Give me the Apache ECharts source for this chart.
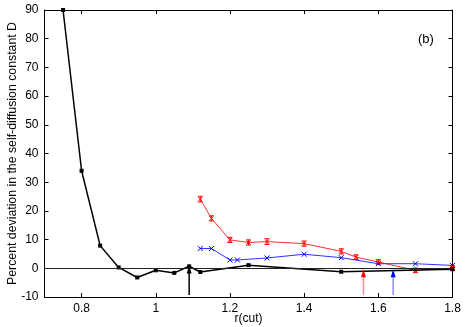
<!DOCTYPE html>
<html>
<head>
<meta charset="utf-8">
<script src="https://cdn.jsdelivr.net/npm/echarts@6/dist/echarts.min.js"></script>
<style>
  html, body { margin: 0; padding: 0; background: #fff; }
  #chart { width: 467px; height: 327px; }
</style>
</head>
<body>
<div id="chart"></div>
<script>
// tick labels
var xTicks = [0.8, 1, 1.2, 1.4, 1.6, 1.8]

// black series (squares)
var blackX = [0.75, 0.8, 0.85, 0.9, 0.95, 1.0, 1.05, 1.09, 1.12, 1.25, 1.5, 1.8]
var blackY = [90, 34, 7.9, 0.3, -3.2, -0.7, -1.6, 0.7, -1.3, 1.1, -1.2, -0.3]

// red series with error bars
var redX = [1.12, 1.15, 1.2, 1.25, 1.3, 1.4, 1.5, 1.54, 1.6, 1.7, 1.8]
var redY = [24.1, 17.4, 9.9, 9.0, 9.3, 8.6, 5.9, 3.9, 2.2, -0.7, 0.1]
var redErr = [1.0, 0.9, 0.9, 0.9, 1.0, 0.9, 0.9, 0.8, 0.8, 0.8, 0.9]

// blue series (crosses)
var blueX = [1.12, 1.15, 1.2, 1.22, 1.3, 1.4, 1.5, 1.6, 1.7, 1.8]
var blueY = [6.9, 6.9, 2.9, 2.9, 3.6, 4.9, 3.7, 1.6, 1.6, 1.0]

// arrows marking r(cut) values
var arrowX = [1.09, 1.56, 1.64]
var arrowTop = [1, -0.3, -0.3]
var arrowShaft = ['#000000', '#ff9090', '#9090ff']
var arrowHead = ['#000000', '#ff0000', '#0000ff']

var chart = echarts.init(document.getElementById('chart'))

var cross = 'path://M0,0L10,10M10,0L0,10'
var font = 'Liberation Sans, Arial, sans-serif'

function zip(xs, ys) {
  return xs.map(function (x, i) { return [x, ys[i]] })
}

var option = {
  animation: false,
  backgroundColor: '#fff',
  grid: { left: 44.5, right: 14.5, top: 10, bottom: 30, outerBoundsMode: 'none', containLabel: false },
  xAxis: [
    {
      type: 'value', min: 0.7, max: 1.8,
      name: 'r(cut)', nameLocation: 'middle', nameGap: 16, nameMoveOverlap: false,
      nameTextStyle: { color: '#000', fontSize: 12, fontFamily: font },
      axisLine: { onZero: false, lineStyle: { color: '#000', width: 1 } },
      axisTick: { inside: true, length: 4, customValues: xTicks, lineStyle: { color: '#000' } },
      axisLabel: { customValues: xTicks, color: '#000', fontSize: 12, fontFamily: font, margin: 6 },
      splitLine: { show: false }
    },
    {
      type: 'value', min: 0.7, max: 1.8, position: 'top',
      axisLine: { onZero: false, lineStyle: { color: '#000', width: 1 } },
      axisTick: { inside: true, length: 4, customValues: xTicks, lineStyle: { color: '#000' } },
      axisLabel: { show: false },
      splitLine: { show: false }
    }
  ],
  yAxis: [
    {
      type: 'value', min: -10, max: 90, interval: 10,
      name: 'Percent deviation in the self-diffusion constant D',
      nameLocation: 'middle', nameGap: 26, nameMoveOverlap: false,
      nameTextStyle: { color: '#000', fontSize: 12.3, fontFamily: font },
      axisLine: { show: true, onZero: false, lineStyle: { color: '#000', width: 1 } },
      axisTick: { show: true, inside: true, length: 4, lineStyle: { color: '#000' } },
      axisLabel: { color: '#000', fontSize: 12, fontFamily: font, margin: 6 },
      splitLine: { show: false }
    },
    {
      type: 'value', min: -10, max: 90, interval: 10, position: 'right',
      axisLine: { show: true, onZero: false, lineStyle: { color: '#000', width: 1 } },
      axisTick: { show: true, inside: true, length: 4, lineStyle: { color: '#000' } },
      axisLabel: { show: false },
      splitLine: { show: false }
    }
  ],
  graphic: [
    {
      type: 'text', left: 418, top: 33,
      style: { text: '(b)', fill: '#000', font: '13px ' + font }
    }
  ],
  series: [
    {
      // zero reference line
      type: 'line',
      data: [],
      markLine: {
        silent: true,
        animation: false,
        symbol: 'none',
        label: { show: false },
        lineStyle: { color: '#222', width: 1, type: 'solid' },
        data: [[{ coord: [0.7, 0] }, { coord: [1.8, 0] }]]
      }
    },
    {
      // arrows
      type: 'custom',
      data: arrowX.map(function (x, i) { return [x, arrowTop[i], i] }),
      renderItem: function (params, api) {
        var i = api.value(2)
        var tip = api.coord([api.value(0), api.value(1)])
        var base = api.coord([api.value(0), -10])
        var hl = 8, hw = 2.5
        return {
          type: 'group',
          children: [
            {
              type: 'line',
              shape: { x1: base[0], y1: base[1] - 2, x2: tip[0], y2: tip[1] + hl - 1 },
              style: { stroke: arrowShaft[i], lineWidth: 1.5 }
            },
            {
              type: 'polygon',
              shape: { points: [[tip[0], tip[1]], [tip[0] - hw, tip[1] + hl], [tip[0] + hw, tip[1] + hl]] },
              style: { fill: arrowHead[i] }
            }
          ]
        }
      },
      z: 5
    },
    {
      type: 'line',
      data: zip(redX, redY),
      symbol: cross,
      symbolSize: 4,
      lineStyle: { color: '#ff3030', width: 1 },
      itemStyle: { color: 'none', borderColor: '#ff0000', borderWidth: 1 },
      z: 3
    },
    {
      type: 'custom',
      data: redX.map(function (x, i) { return [x, redY[i] - redErr[i], redY[i] + redErr[i]] }),
      renderItem: function (params, api) {
        var lo = api.coord([api.value(0), api.value(1)])
        var hi = api.coord([api.value(0), api.value(2)])
        var w = 2.5
        var st = { stroke: '#ff0000', lineWidth: 1 }
        return {
          type: 'group',
          children: [
            { type: 'line', shape: { x1: lo[0], y1: lo[1], x2: hi[0], y2: hi[1] }, style: st },
            { type: 'line', shape: { x1: lo[0] - w, y1: lo[1], x2: lo[0] + w, y2: lo[1] }, style: st },
            { type: 'line', shape: { x1: hi[0] - w, y1: hi[1], x2: hi[0] + w, y2: hi[1] }, style: st }
          ]
        }
      },
      z: 3
    },
    {
      type: 'line',
      data: zip(blueX, blueY),
      symbol: cross,
      symbolSize: 5,
      lineStyle: { color: '#3030ff', width: 1 },
      itemStyle: { color: 'none', borderColor: '#0000ff', borderWidth: 1 },
      z: 3
    },
    {
      type: 'line',
      data: zip(blackX, blackY),
      symbol: 'rect',
      symbolSize: 4,
      lineStyle: { color: '#000', width: 1.5 },
      itemStyle: { color: '#000' },
      z: 4
    }
  ]
}

chart.setOption(option)
</script>
</body>
</html>
